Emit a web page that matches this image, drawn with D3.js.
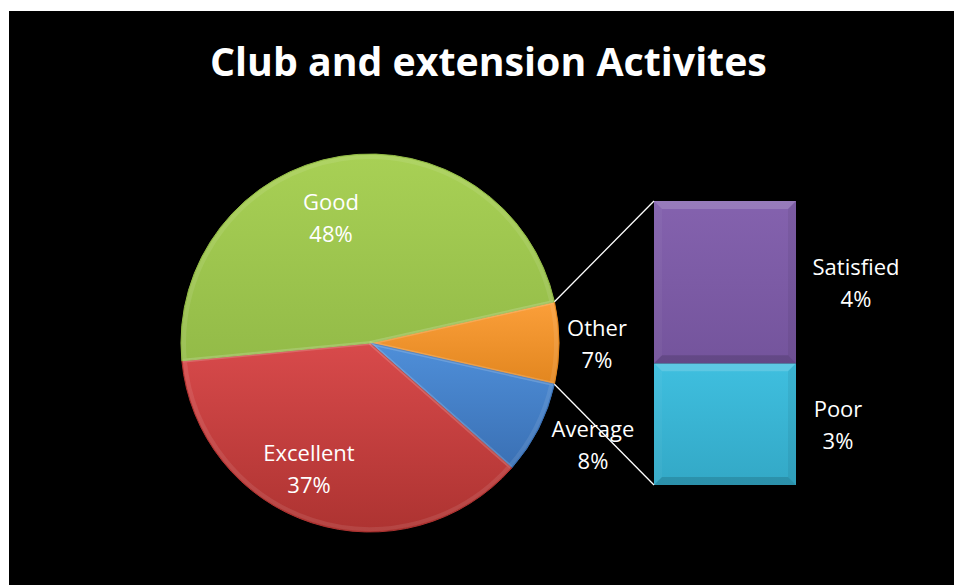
<!DOCTYPE html>
<html>
<head>
<meta charset="utf-8">
<script src="https://cdn.jsdelivr.net/npm/d3@7"></script>
<style>
  html, body { margin: 0; padding: 0; background: #ffffff; }
  svg { display: block; }
  text { font-family: "Open Sans", "DejaVu Sans", sans-serif; }
</style>
</head>
<body>
<svg id="chart" width="954" height="585"></svg>
<script>
// ---- data ----
const title = "Club and extension Activites";
const pieCategories = ["Other", "Average", "Excellent", "Good"];
const pieValues = [7, 8, 37, 48];
const pieLabels = ["7%", "8%", "37%", "48%"];
const barCategories = ["Poor", "Satisfied"];
const barValues = [3, 4];
const barLabels = ["3%", "4%"];

// ---- styles ----
const pieColors = {
  Good: ["#a8d055", "#93bb48"],
  Excellent: ["#d84a4b", "#ad3331"],
  Average: ["#4f8fd9", "#3a70b4"],
  Other: ["#fb9f3a", "#e2861f"]
};
const barColors = {
  Satisfied: ["#8462ae", "#74549c"],
  Poor: ["#3fbfdf", "#33a8c6"]
};

const svg = d3.select("#chart");
const W = 954, H = 585;

svg.append("rect").attr("x", 9).attr("y", 11).attr("width", W - 9).attr("height", H - 11).attr("fill", "#000");

const defs = svg.append("defs");
function grad(id, c) {
  const g = defs.append("linearGradient").attr("id", id)
    .attr("x1", 0).attr("y1", 0).attr("x2", 0).attr("y2", 1);
  g.append("stop").attr("offset", "0%").attr("stop-color", c[0]);
  g.append("stop").attr("offset", "100%").attr("stop-color", c[1]);
}
Object.entries(pieColors).forEach(([k, c]) => grad("pg-" + k, c));
Object.entries(barColors).forEach(([k, c]) => grad("bg-" + k, c));

// title
const t = svg.append("text")
  .attr("x", 488.5).attr("y", 76)
  .attr("text-anchor", "middle")
  .attr("fill", "#fff")
  .attr("font-weight", "bold")
  .attr("font-size", 40)
  .text(title);
const tw = t.node().getComputedTextLength();
t.attr("font-size", 40 * 557 / tw);

// ---- pie ----
const cx = 370, cy = 343, R = 189;
const otherHalf = Math.PI * pieValues[0] / d3.sum(pieValues);
const pie = d3.pie().sort(null).value(d => d.v)
  .startAngle(Math.PI / 2 - otherHalf)
  .endAngle(Math.PI / 2 - otherHalf + 2 * Math.PI);
const arcs = pie(pieCategories.map((c, i) => ({ c, v: pieValues[i], l: pieLabels[i] })));
const arc = d3.arc().innerRadius(0).outerRadius(R);
const bevelArc = d3.arc().innerRadius(0).outerRadius(R - 3);

const pg = svg.append("g").attr("transform", `translate(${cx},${cy})`);
pg.selectAll("path.slice").data(arcs).join("path")
  .attr("class", "slice")
  .attr("d", arc)
  .attr("fill", d => `url(#pg-${d.data.c})`)
  .attr("stroke", d => pieColors[d.data.c][1])
  .attr("stroke-width", 1);
pg.selectAll("path.bevel").data(arcs).join("path")
  .attr("class", "bevel")
  .attr("d", bevelArc)
  .attr("fill", "none")
  .attr("stroke", "#ffffff")
  .attr("stroke-opacity", 0.09)
  .attr("stroke-width", 4);

// pie labels (positions relative to pie)
const labelPos = {
  Good: [331 - cx, 210 - cy],
  Excellent: [309 - cx, 461 - cy],
  Other: [597 - cx, 336 - cy],
  Average: [593 - cx, 437 - cy]
};
const fs = 22;
arcs.forEach(d => {
  const p = labelPos[d.data.c];
  const tx = pg.append("text").attr("text-anchor", "middle").attr("fill", "#fff").attr("font-size", fs);
  tx.append("tspan").attr("x", p[0]).attr("y", p[1]).text(d.data.c);
  tx.append("tspan").attr("x", p[0]).attr("y", p[1] + 32).text(d.data.l);
});

// ---- bar of pie ----
const x = d3.scaleBand().domain(["Other"]).range([654, 796]).padding(0);
const y = d3.scaleLinear().domain([0, d3.sum(barValues)]).range([485, 201]);
const stack = d3.stack().keys(barCategories);
const row = {}; barCategories.forEach((c, i) => row[c] = barValues[i]);
const series = stack([row]);

const bg = svg.append("g");
const bev = 8;
series.forEach((s, i) => {
  const key = s.key;
  const x0 = x("Other"), x1 = x0 + x.bandwidth();
  const yTop = y(s[0][1]), yBot = y(s[0][0]);
  bg.append("rect").attr("x", x0).attr("y", yTop).attr("width", x1 - x0).attr("height", yBot - yTop)
    .attr("fill", `url(#bg-${key})`);
  const poly = pts => bg.append("polygon").attr("points", pts.map(p => p.join(",")).join(" "));
  poly([[x0, yTop], [x1, yTop], [x1 - bev, yTop + bev], [x0 + bev, yTop + bev]])
    .attr("fill", "#fff").attr("fill-opacity", 0.16);
  poly([[x0, yTop], [x0 + bev, yTop + bev], [x0 + bev, yBot - bev], [x0, yBot]])
    .attr("fill", "#fff").attr("fill-opacity", 0.04);
  poly([[x1, yTop], [x1 - bev, yTop + bev], [x1 - bev, yBot - bev], [x1, yBot]])
    .attr("fill", "#000").attr("fill-opacity", 0.06);
  poly([[x0, yBot], [x0 + bev, yBot - bev], [x1 - bev, yBot - bev], [x1, yBot]])
    .attr("fill", "#000").attr("fill-opacity", 0.14);
});

// bar labels
const barLabelPos = { Satisfied: [856, 275], Poor: [838, 417] };
barCategories.forEach((c, i) => {
  const p = barLabelPos[c];
  const tx = svg.append("text").attr("text-anchor", "middle").attr("fill", "#fff").attr("font-size", fs);
  tx.append("tspan").attr("x", p[0]).attr("y", p[1]).text(c);
  tx.append("tspan").attr("x", p[0]).attr("y", p[1] + 32).text(barLabels[i]);
});

// connector lines
const oa = arcs[0];
const pt = a => [cx + R * Math.sin(a), cy - R * Math.cos(a)];
const pStart = pt(oa.startAngle), pEnd = pt(oa.endAngle);
svg.append("line").attr("x1", pStart[0]).attr("y1", pStart[1]).attr("x2", x("Other")).attr("y2", y(d3.sum(barValues)))
  .attr("stroke", "#fff").attr("stroke-width", 1.3);
svg.append("line").attr("x1", pEnd[0]).attr("y1", pEnd[1]).attr("x2", x("Other")).attr("y2", y(0))
  .attr("stroke", "#fff").attr("stroke-width", 1.3);
</script>
</body>
</html>
